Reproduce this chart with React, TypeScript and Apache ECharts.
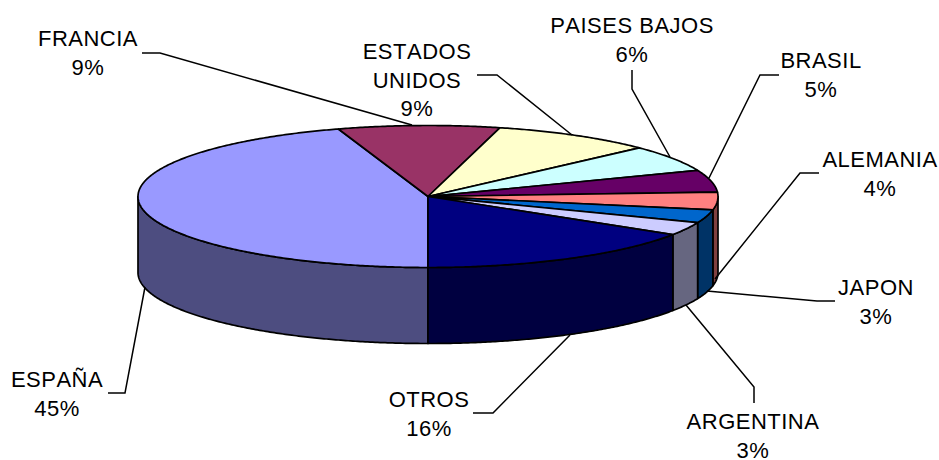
import React, { useEffect, useRef } from "react";
import * as echarts from "echarts";

// Data, in drawing order, clockwise from the bottom of the pie
const names = ["ESPAÑA", "FRANCIA", "ESTADOS\nUNIDOS", "PAISES BAJOS", "BRASIL", "ALEMANIA", "JAPON", "ARGENTINA", "OTROS"];
const values = [45, 9, 9, 6, 5, 4, 3, 3, 16];

// Styles
const topColors = ["#9999FF", "#993366", "#FFFFCC", "#CCFFFF", "#660066", "#FF8080", "#0066CC", "#CCCCFF", "#000080"];
const wallColors = ["#4D4D80", "#4D1A33", "#808066", "#668080", "#330033", "#804040", "#003366", "#666680", "#000040"];

// Layout
const CX = 428;
const CY = 196.5;
const RX = 290;
const RY = 71;
const DEPTH = 76;
const FONT = 22;
const LINE = 28.5;
const labelCenters: [number, number][] = [
  [57, 394], [88, 53], [417, 80], [632, 40], [821, 75], [880, 174], [876, 302], [753, 436], [429, 414],
];
const leaders: [number, number][][] = [
  [[108, 393], [125, 393], [145, 287]],
  [[142, 53], [160, 53], [412, 125]],
  [[477, 75], [497, 75], [572, 135]],
  [[632, 70], [632, 89], [670, 157]],
  [[779, 75], [760, 75], [709, 178]],
  [[819, 173], [800, 173], [715, 279]],
  [[835, 301], [817, 301], [707, 291]],
  [[754, 403], [754, 387], [686, 305]],
  [[473, 413], [493, 413], [570, 335]],
];

const total = values.reduce((a, b) => a + b, 0);
// angle in degrees, clockwise from the bottom of the ellipse
const rim = (deg: number, dy = 0): [number, number] => {
  const r = (deg * Math.PI) / 180;
  return [CX - RX * Math.sin(r), CY + RY * Math.cos(r) + dy];
};
const span = (i: number, value: number) => {
  const before = values.slice(0, i).reduce((a, b) => a + b, 0);
  return [(before / total) * 360, ((before + value) / total) * 360];
};
const arc = (a: number, b: number, dy = 0) => {
  const pts: [number, number][] = [];
  const n = Math.max(2, Math.ceil((b - a) * 2));
  for (let k = 0; k <= n; k++) pts.push(rim(a + ((b - a) * k) / n, dy));
  return pts;
};

const renderTop = (params: any, api: any) => {
  const i = params.dataIndex;
  const [a, b] = span(i, api.value(0));
  return {
    type: "polygon",
    shape: { points: [[CX, CY], ...arc(a, b)] },
    style: { fill: topColors[i], stroke: "#000", lineWidth: 1.7, lineJoin: "round" },
  };
};

const renderWall = (params: any, api: any) => {
  const i = params.dataIndex;
  const [a0, b0] = span(i, api.value(0));
  // only the front half of the rim can be seen: 270..360 and 0..90 degrees from the bottom
  const parts: [number, number][] = [];
  if (a0 < 90) parts.push([a0, Math.min(b0, 90)]);
  if (b0 > 270) parts.push([Math.max(a0, 270), b0]);
  return {
    type: "group",
    children: parts.map(([a, b]) => ({
      type: "polygon",
      shape: { points: [...arc(a, b), ...arc(a, b, DEPTH).reverse()] },
      style: { fill: wallColors[i], stroke: "#000", lineWidth: 1.7, lineJoin: "round" },
    })),
  };
};

export default function App() {
  const ref = useRef<HTMLDivElement>(null);
  useEffect(() => {
    const chart = echarts.init(ref.current!, undefined, { renderer: "svg" });
    const data = values.map((v) => [v]);
    chart.setOption({
      animation: false,
      backgroundColor: "#fff",
      series: [
        { type: "custom", coordinateSystem: "none", renderItem: renderWall, data, z: 1, silent: true },
        { type: "custom", coordinateSystem: "none", renderItem: renderTop, data, z: 2, silent: true },
      ],
      graphic: [
        ...leaders.map((points) => ({
          type: "polyline",
          z: 10,
          shape: { points },
          style: { fill: "none", stroke: "#000", lineWidth: 1.5 },
        })),
        ...names.map((name, i) => ({
          type: "text",
          z: 11,
          x: labelCenters[i][0],
          y: labelCenters[i][1],
          style: {
            text: `${name}\n${values[i]}%`,
            fontFamily: "'Liberation Sans', Arial, sans-serif",
            fontSize: FONT,
            lineHeight: LINE,
            fill: "#000",
            align: "center",
            verticalAlign: "middle",
          },
        })),
      ],
    });
    return () => chart.dispose();
  }, []);
  return (
    <>
      <style>{"svg text { font-kerning: none; letter-spacing: 0.5px; }"}</style>
      <div ref={ref} style={{ position: "absolute", left: 0, top: 0, width: 939, height: 460 }} />
    </>
  );
}
